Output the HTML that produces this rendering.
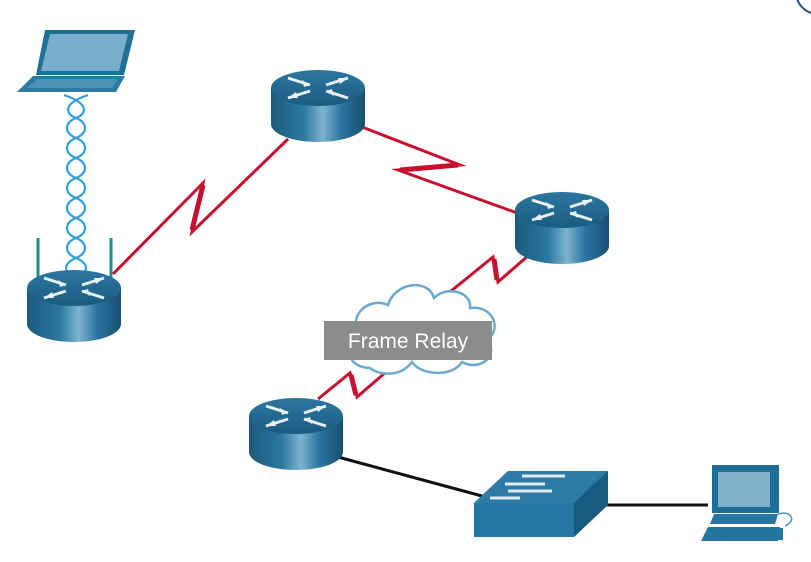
<!DOCTYPE html>
<html><head><meta charset="utf-8"><style>
html,body{margin:0;padding:0;background:#fff;}
svg{display:block;}
</style></head><body>
<svg width="811" height="562" viewBox="0 0 811 562" xmlns="http://www.w3.org/2000/svg">
<defs>
<linearGradient id="rb" x1="0" x2="1" y1="0" y2="0">
<stop offset="0" stop-color="#1d5a7c"/><stop offset="0.35" stop-color="#2a78a0"/><stop offset="0.55" stop-color="#7fb3cf"/><stop offset="0.75" stop-color="#2a74a0"/><stop offset="1" stop-color="#184f70"/>
</linearGradient>
<linearGradient id="rt" x1="0" x2="0" y1="0" y2="1">
<stop offset="0" stop-color="#2c77a0"/><stop offset="1" stop-color="#1b5c80"/>
</linearGradient>
<g id="router">
<path d="M-47,0 L-47,36 A47,18 0 0 0 47,36 L47,0 Z" fill="url(#rb)"/>
<ellipse cx="0" cy="0" rx="47" ry="18" fill="url(#rt)"/>
<g stroke="#e8f1f6" stroke-width="3" fill="#e8f1f6">
<line x1="-30" y1="-10" x2="-8" y2="-3"/><line x1="8" y1="3" x2="30" y2="10"/>
<line x1="-30" y1="10" x2="-8" y2="3"/><line x1="8" y1="-3" x2="30" y2="-10"/>
</g>
<g fill="#e8f1f6">
<polygon points="-8,-3 -16,-8 -14,-1"/><polygon points="8,3 16,8 14,1"/>
<polygon points="-30,10 -22,4 -20,10"/><polygon points="30,-10 22,-4 20,-10"/>
</g>
</g>
</defs>
<circle cx="818" cy="-8" r="22" fill="none" stroke="#1f4f86" stroke-width="2"/>

<!-- red serial lines -->
<g stroke="#c8102e" stroke-width="3" fill="none" stroke-linejoin="miter" stroke-miterlimit="20">
<polyline points="113,274 203,183 192,232 288,139"/>
<polyline points="362,127 460,165 398,170 520,214"/>
<polyline points="529,255 498,282 493,257 440,300"/>
<polyline points="318,399 350,373 357,397 386,372"/>
</g>
<g stroke="#c8102e" stroke-width="5" fill="none">
<line x1="203" y1="185" x2="192" y2="230"/>
<line x1="458" y1="165" x2="400" y2="170"/>
<line x1="497" y1="280" x2="494" y2="259"/>
<line x1="351" y1="375" x2="356" y2="395"/>
</g>

<!-- cloud -->
<path d="M370,368 C345,368 342,340 362,335 C345,318 368,296 388,305 C395,282 428,278 434,298 C447,285 472,292 470,308 C494,305 502,330 487,340 C500,355 480,372 462,362 C452,378 420,375 412,362 C400,378 378,375 370,368 Z" fill="#fff" stroke="#6aaad0" stroke-width="2.5"/>
<rect x="324" y="321" width="168" height="39" fill="#8c8c8c"/>
<text x="408" y="348" text-anchor="middle" font-family="Liberation Sans, sans-serif" font-size="21" fill="#fff">Frame Relay</text>

<!-- black lines -->
<g stroke="#111" stroke-width="3">
<line x1="338" y1="457" x2="482" y2="496"/>
<line x1="605" y1="505" x2="708" y2="505"/>
</g>

<!-- wireless waves -->
<g fill="none" stroke="#2e9fd9" stroke-width="2.2">
<path d="M64,95 C88,103 88,113 76,118 C64,123 64,133 76,138 C88,143 88,153 76,158 C64,163 64,173 76,178 C88,183 88,193 76,198 C64,203 64,213 76,218 C88,223 88,233 76,238 C64,243 64,253 76,258 C88,263 88,270 82,275"/>
<path d="M88,95 C64,103 64,113 76,118 C88,123 88,133 76,138 C64,143 64,153 76,158 C88,163 88,173 76,178 C64,183 64,193 76,198 C88,203 88,213 76,218 C64,223 64,233 76,238 C88,243 88,253 76,258 C64,263 64,270 70,275"/>
</g>

<!-- laptop -->
<polygon points="45,30 135,30 124,75 36,75" fill="#1f6f96"/>
<polygon points="50,34 128,34 119,71 41,71" fill="#78aecb"/>
<polygon points="33,76 125,76 116,92 17,92" fill="#2a7aa3"/>
<polygon points="38,79 118,79 112,88 27,88" fill="#4d93b8"/>

<!-- antennas -->
<g stroke="#1f8f84" stroke-width="3"><line x1="38" y1="238" x2="38" y2="280"/><line x1="111" y1="238" x2="111" y2="280"/></g>

<use href="#router" x="318" y="88"/>
<use href="#router" x="562" y="210"/>
<use href="#router" x="74" y="288"/>
<use href="#router" x="296" y="416"/>

<!-- switch -->
<polygon points="474,503 508,471 608,471 608,503 574,537 474,537" fill="#1f6a93"/>
<polygon points="474,503 508,471 608,471 574,503" fill="#2d7aa6"/>
<rect x="474" y="503" width="100" height="34" fill="#2477a5"/>
<polygon points="574,503 608,471 608,505 574,537" fill="#195a80"/>
<g stroke="#dfeaf1" stroke-width="3"><line x1="522" y1="476" x2="565" y2="476"/><line x1="505" y1="484" x2="545" y2="484"/><line x1="508" y1="491" x2="552" y2="491"/><line x1="490" y1="498" x2="520" y2="498"/></g>

<!-- PC -->
<rect x="712" y="465" width="67" height="48" fill="#1f6e97"/>
<rect x="718" y="472" width="52" height="35" fill="#7fb0cc"/>
<polygon points="714,514 778,514 775,524 710,524" fill="#2475a0"/>
<polygon points="708,527 780,527 778,541 701,541" fill="#2475a0"/>
<rect x="775" y="528" width="8" height="12" fill="#2475a0"/>
<path d="M778,514 C790,510 798,520 785,526" fill="none" stroke="#4a94bf" stroke-width="1.5"/>
</svg>
</body></html>
